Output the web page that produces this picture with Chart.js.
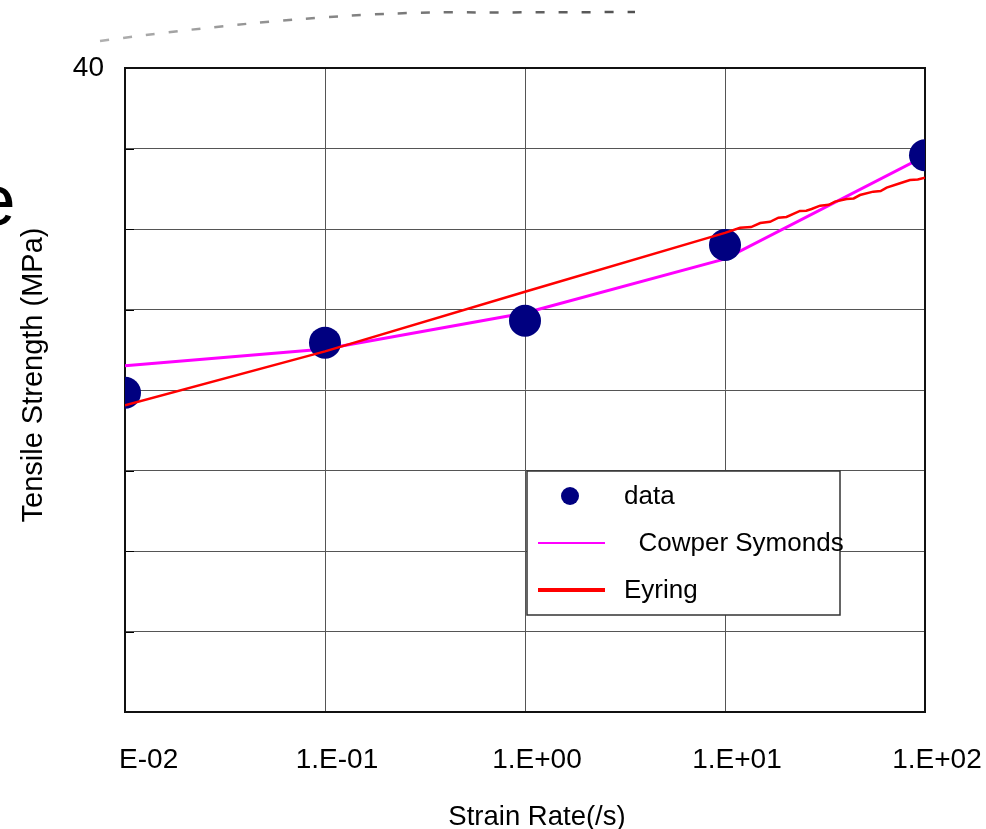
<!DOCTYPE html>
<html>
<head>
<meta charset="utf-8">
<script src="https://cdn.jsdelivr.net/npm/chart.js@4.4.1/dist/chart.umd.min.js"></script>
<style>
  html, body { margin: 0; padding: 0; background: #fff; }
  #wrap { position: relative; width: 986px; height: 829px; overflow: hidden; background: #fff; }
  #wrap canvas { position: absolute; left: 0; top: 0; }
  #trace { position: absolute; left: 0; top: 0; pointer-events: none; }
</style>
</head>
<body>
<div id="wrap">
  <canvas id="chart" width="986" height="829"></canvas>
  <svg id="trace" width="986" height="60" viewBox="0 0 986 60">
    <defs>
      <linearGradient id="fade" x1="0" y1="0" x2="1" y2="0">
        <stop offset="0" stop-color="#b0b0b0"/>
        <stop offset="1" stop-color="#505050"/>
      </linearGradient>
    </defs>
    <path d="M100 41 Q330 10 480 12.5 L635 12" fill="none" stroke="url(#fade)"
          stroke-width="2.5" stroke-dasharray="9 14" style="filter: blur(0.5px)"/>
  </svg>
</div>
<script>
// Measured tensile strength at each strain rate
const rates = [0.01, 0.1, 1, 10, 100];
const strength = [19.83, 22.94, 24.30, 29.01, 34.58];

// Cowper-Symonds fit, evaluated at the same rates
const cowperRates = [0.01, 0.1, 1, 10, 100];
const cowperStrength = [21.51, 22.55, 24.78, 28.14, 34.53];

// Eyring fit (finely sampled over the last decade)
const eyringRates = [0.01, 0.1, 1, 10, 11.9, 13.5, 15, 16.8, 18.5, 20.3, 23.7, 25.5, 27.1, 29.9,
                     33, 35.5, 40.6, 44, 47.3, 55.1, 60, 64.3, 75, 84.1, 92, 100];
const eyringStrength = [19.05, 22.40, 26.10, 29.76, 30.08, 30.12, 30.37, 30.45, 30.70, 30.75, 31.12, 31.14, 31.24, 31.45,
                        31.50, 31.70, 31.86, 31.90, 32.11, 32.32, 32.36, 32.57, 32.84, 33.04, 33.08, 33.19];

// Axis ticks and labels
const rateTicks = [0.01, 0.1, 1, 10, 100];
const rateTickLabels = ['1.E-02', '1.E-01', '1.E+00', '1.E+01', '1.E+02'];
const strengthMin = 0, strengthMax = 40, strengthStep = 5;

const xTitle = 'Strain Rate(/s)';
const yTitle = 'Tensile Strength (MPa)';
const seriesLabels = ['data', '  Cowper Symonds', 'Eyring'];

const FONT = "'Liberation Sans', Arial, Helvetica, sans-serif";
Chart.defaults.font.family = FONT;
Chart.defaults.color = '#000';

const pairs = (xs, ys) => xs.map((x, i) => ({ x, y: ys[i] }));

// Frame around the plot and short inward ticks on the left axis
const framePlugin = {
  id: 'frame',
  beforeDatasetsDraw(chart) {
    const { ctx, chartArea: a, scales: { y } } = chart;
    ctx.save();
    ctx.strokeStyle = '#000';
    ctx.lineWidth = 1;
    ctx.beginPath();
    y.ticks.forEach(t => {
      const py = Math.round(y.getPixelForValue(t.value)) + 0.5;
      ctx.moveTo(a.left, py);
      ctx.lineTo(a.left + 9, py);
    });
    ctx.stroke();
    ctx.lineWidth = 2;
    ctx.strokeStyle = '#111';
    ctx.strokeRect(a.left, a.top, a.right - a.left, a.bottom - a.top);
    ctx.restore();
  }
};

// Boxed legend inside the plot area
const legendBoxPlugin = {
  id: 'legendBox',
  afterDatasetsDraw(chart, args, opts) {
    const { ctx, chartArea: a } = chart;
    const x0 = a.left + opts.left, y0 = a.top + opts.top;
    ctx.save();
    ctx.fillStyle = '#fff';
    ctx.fillRect(x0, y0, opts.width, opts.height);
    ctx.strokeStyle = '#333';
    ctx.lineWidth = 1.5;
    ctx.strokeRect(x0, y0, opts.width, opts.height);
    ctx.font = opts.fontSize + 'px ' + FONT;
    ctx.textBaseline = 'middle';
    ctx.textAlign = 'left';
    chart.data.datasets.forEach((ds, i) => {
      const cy = y0 + opts.firstRow + i * opts.rowGap;
      if (ds.showLine) {
        ctx.strokeStyle = ds.borderColor;
        ctx.lineWidth = opts.sampleWidths[i];
        ctx.beginPath();
        ctx.moveTo(x0 + 11, cy);
        ctx.lineTo(x0 + 78, cy);
        ctx.stroke();
      } else {
        ctx.fillStyle = ds.backgroundColor;
        ctx.beginPath();
        ctx.arc(x0 + 43, cy, 9, 0, Math.PI * 2);
        ctx.fill();
      }
      ctx.fillStyle = '#000';
      ctx.fillText(ds.label, x0 + opts.textX, cy + 1);
    });
    ctx.restore();
  }
};

// Margins: white panel over the left axis labels, both axis titles, large caption letter
const sidePlugin = {
  id: 'side',
  afterDraw(chart) {
    const { ctx, chartArea: a } = chart;
    ctx.save();
    ctx.fillStyle = '#fff';
    ctx.fillRect(0, a.top + 17, a.left - 6, chart.height);
    ctx.fillStyle = '#000';
    ctx.textAlign = 'center';
    ctx.textBaseline = 'alphabetic';

    ctx.font = '27.5px ' + FONT;
    ctx.fillText(xTitle, (a.left + a.right) / 2 + 12, a.bottom + 113);

    ctx.font = '29px ' + FONT;
    ctx.translate(42, a.top + 307);
    ctx.rotate(-Math.PI / 2);
    ctx.fillText(yTitle, 0, 0);
    ctx.restore();

    ctx.save();
    ctx.fillStyle = '#000';
    ctx.font = '73px ' + FONT;
    ctx.textBaseline = 'alphabetic';
    ctx.fillText('e', -25, 225);
    ctx.restore();
  }
};

new Chart(document.getElementById('chart'), {
  type: 'scatter',
  data: {
    datasets: [
      {
        label: seriesLabels[0],
        data: pairs(rates, strength),
        showLine: false,
        pointRadius: 16,
        pointHoverRadius: 16,
        pointBorderWidth: 0,
        backgroundColor: '#000080',
        borderColor: '#000080',
        order: 1
      },
      {
        label: seriesLabels[1],
        data: pairs(cowperRates, cowperStrength),
        showLine: true,
        borderColor: '#ff00ff',
        backgroundColor: '#ff00ff',
        borderWidth: 3,
        pointRadius: 0,
        tension: 0,
        order: 2
      },
      {
        label: seriesLabels[2],
        data: pairs(eyringRates, eyringStrength),
        showLine: true,
        borderColor: '#ff0000',
        backgroundColor: '#ff0000',
        borderWidth: 2.5,
        pointRadius: 0,
        tension: 0,
        order: 0
      }
    ]
  },
  options: {
    responsive: false,
    animation: false,
    devicePixelRatio: 1,
    layout: { padding: { left: 0, top: 68, right: 61, bottom: 0 } },
    plugins: {
      legend: { display: false },
      tooltip: { enabled: false },
      legendBox: {
        left: 402, top: 403, width: 313, height: 144,
        firstRow: 25, rowGap: 47, textX: 97, fontSize: 26,
        sampleWidths: [0, 2, 4]
      }
    },
    scales: {
      x: {
        type: 'logarithmic',
        min: rateTicks[0],
        max: rateTicks[rateTicks.length - 1],
        afterBuildTicks(axis) { axis.ticks = rateTicks.map(v => ({ value: v })); },
        afterFit(scale) {
          scale.height = 117;
          scale.paddingLeft = 0;
          scale.paddingRight = 0;
        },
        ticks: {
          autoSkip: false,
          maxRotation: 0,
          padding: 31,
          labelOffset: 12,
          color: '#000',
          font: { size: 28 },
          callback: (v, i) => rateTickLabels[i]
        },
        grid: { color: '#555', lineWidth: 1, drawTicks: false },
        border: { display: true, color: '#000', width: 2 },
        title: { display: false }
      },
      y: {
        type: 'linear',
        min: strengthMin,
        max: strengthMax,
        afterFit(scale) {
          scale.width = 125;
          scale.paddingTop = 0;
          scale.paddingBottom = 0;
        },
        ticks: {
          stepSize: strengthStep,
          padding: 21,
          color: '#000',
          font: { size: 28 }
        },
        grid: { color: '#555', lineWidth: 1, drawTicks: false },
        border: { display: true, color: '#000', width: 2 },
        title: { display: false }
      }
    }
  },
  plugins: [framePlugin, legendBoxPlugin, sidePlugin]
});
</script>
</body>
</html>
